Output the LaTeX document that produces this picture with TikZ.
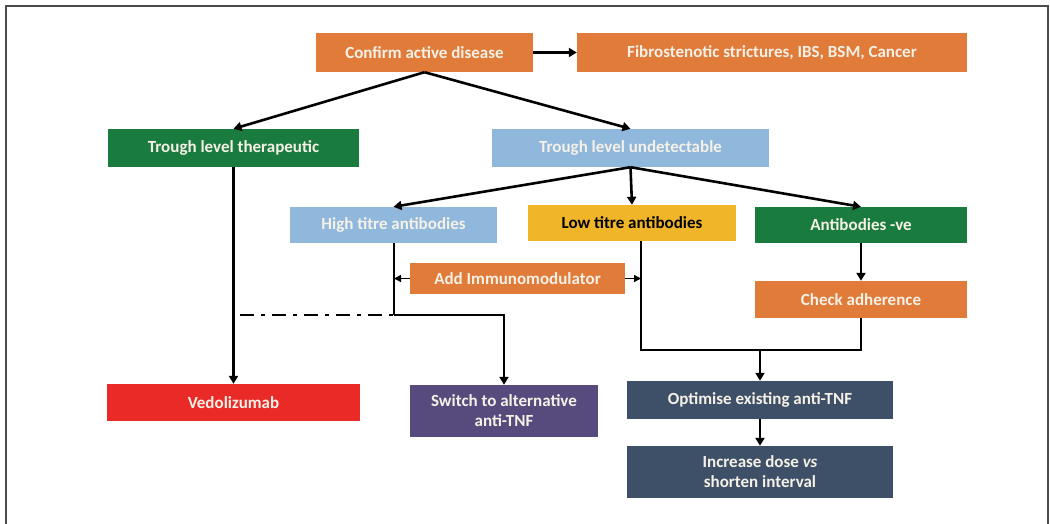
\documentclass[tikz,border=0pt]{standalone}
\usepackage{fontspec}
\setmainfont{Carlito}[BoldItalicFont={Carlito Bold Italic}, ItalicFont={Carlito Italic}]
\usetikzlibrary{arrows.meta}
\definecolor{corange}{HTML}{E07B3A}
\definecolor{cgreen}{HTML}{1A7B3E}
\definecolor{cblue}{HTML}{8FB8DC}
\definecolor{cyellow}{HTML}{F1B52A}
\definecolor{cred}{HTML}{EA2A27}
\definecolor{cpurple}{HTML}{574A7C}
\definecolor{cslate}{HTML}{3E5068}
\definecolor{ctext}{HTML}{F6F1E7}
\begin{document}
\begin{tikzpicture}[x=1pt,y=-1pt,
  box/.style={rectangle, inner sep=0pt, text=ctext, align=center,
    font=\fontsize{17}{20}\selectfont\bfseries},
  conn/.style={line width=2.6pt, draw=black},
  arr/.style={conn, -{Triangle[length=8pt,width=9pt]}},
  thinarr/.style={line width=1.3pt, draw=black, -{Triangle[length=7pt,width=7pt]}}]
\useasboundingbox (0,0) rectangle (1050,524);
\draw[line width=1.5pt, black!70] (6,524) -- (6,6) -- (1048,6) -- (1048,524);

\node[box, fill=corange, minimum width=217pt, minimum height=39pt] (conf) at (424.5,52.5) {Confirm active disease};
\node[box, fill=corange, minimum width=390pt, minimum height=39pt] (fib) at (772,52.5) {Fibrostenotic strictures, IBS, BSM, Cancer};
\node[box, fill=cgreen, minimum width=251pt, minimum height=38pt] (ther) at (233.5,148) {Trough level therapeutic};
\node[box, fill=cblue, minimum width=277pt, minimum height=38pt] (und) at (630.5,148) {Trough level undetectable};
\node[box, fill=cblue, minimum width=207pt, minimum height=36pt] (high) at (393.5,225) {High titre antibodies};
\node[box, fill=cyellow, text=black, minimum width=208pt, minimum height=36pt] (low) at (632,223) {Low titre antibodies};
\node[box, fill=cgreen, minimum width=212pt, minimum height=36pt] (neg) at (861,225) {Antibodies -ve};
\node[box, fill=corange, minimum width=215pt, minimum height=31pt] (add) at (517.5,278.5) {Add Immunomodulator};
\node[box, fill=corange, minimum width=212pt, minimum height=37pt] (chk) at (861,299.5) {Check adherence};
\node[box, fill=cred, minimum width=253pt, minimum height=37pt] (ved) at (233.5,402.5) {Vedolizumab};
\node[box, fill=cpurple, minimum width=188pt, minimum height=52pt] (sw) at (504,411) {Switch to alternative\\anti-TNF};
\node[box, fill=cslate, minimum width=266pt, minimum height=38pt] (opt) at (760,400) {Optimise existing anti-TNF};
\node[box, fill=cslate, minimum width=266pt, minimum height=52pt] (inc) at (760,472) {Increase dose {\itshape vs}\\shorten interval};

\coordinate (hj) at (394,315);
\coordinate (dd) at (240,315);
\coordinate (lowout) at (641,241);
\coordinate (mj) at (760,350);

\draw[arr] (conf.east) -- (fib.west);
\draw[arr] (conf.south) -- (ther.north);
\draw[arr] (conf.south) -- (und.north);
\draw[arr] (und.south) -- (high.north);
\draw[arr] (und.south) -- (low.north);
\draw[arr] (und.south) -- (neg.north);
\draw[arr] (ther.south) -- (ved.north);
\draw[conn] (high.south -| hj) -- (hj);
\draw[conn, dash pattern=on 14pt off 7pt on 4pt off 7pt] (dd) -- (hj);
\draw[arr] (hj) -| (sw.north);
\draw[thinarr] (add.west) -- (add.west -| hj);
\draw[thinarr] (add.east) -- (add.east -| lowout);
\draw[arr] (neg.south) -- (chk.north);
\draw[conn] (lowout) |- (mj);
\draw[conn] (chk.south) |- (mj);
\draw[arr] (mj) -- (opt.north);
\draw[arr] (opt.south) -- (inc.north);
\end{tikzpicture}
\end{document}
